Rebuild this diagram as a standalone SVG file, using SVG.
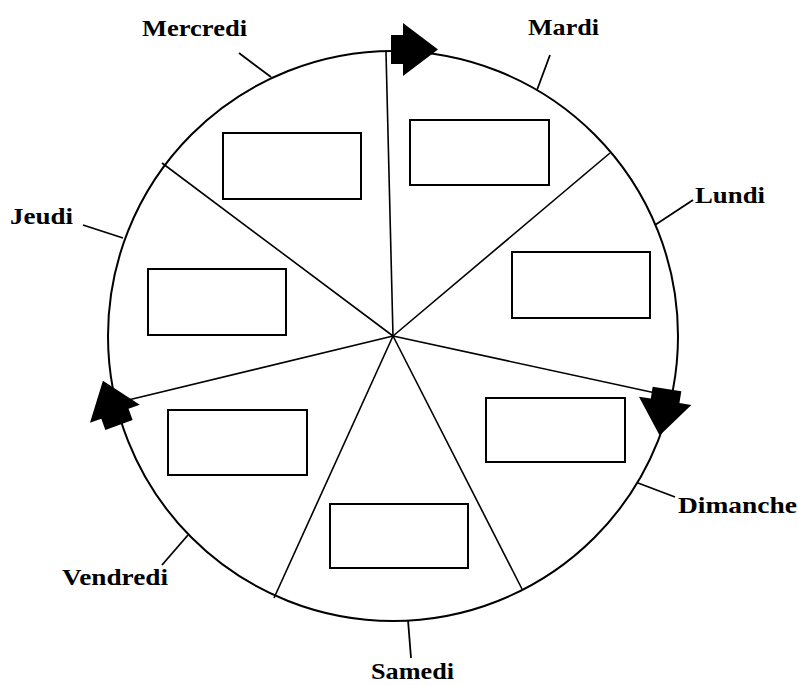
<svg xmlns="http://www.w3.org/2000/svg" width="798" height="685" viewBox="0 0 798 685">
<style>
.ring{fill:none;stroke:#000;stroke-width:2}
.spoke{stroke:#000;stroke-width:1.6;fill:none}
.box{fill:#fff;stroke:#000;stroke-width:2}
.lead{stroke:#000;stroke-width:1.8;fill:none}
.lbl{font-family:"Liberation Serif","Times New Roman",serif;font-weight:bold;font-size:24px;fill:#000}
</style>
<defs>
<path id="blk" d="M0,-14.5 H12 V-26.5 L47,0 L12,26.5 V14.5 H0 Z" fill="#000"/>
</defs>
<rect width="798" height="685" fill="#fff"/>
<g id="wheel">
<circle class="ring" cx="393" cy="336" r="285"/>
</g>
<g id="connectors">
<line class="spoke" x1="393" y1="336" x2="386" y2="52"/>
<line class="spoke" x1="393" y1="336" x2="610" y2="153"/>
<line class="spoke" x1="393" y1="336" x2="674" y2="397"/>
<line class="spoke" x1="393" y1="336" x2="522" y2="589"/>
<line class="spoke" x1="393" y1="336" x2="274" y2="598"/>
<line class="spoke" x1="393" y1="336" x2="120" y2="402"/>
<line class="spoke" x1="393" y1="336" x2="162" y2="163"/>
<line class="lead" x1="271" y1="77" x2="239" y2="53"/>
<line class="lead" x1="537" y1="90" x2="550" y2="55"/>
<line class="lead" x1="655" y1="225" x2="693" y2="200"/>
<line class="lead" x1="123" y1="238" x2="83" y2="225"/>
<line class="lead" x1="638" y1="483" x2="675" y2="497"/>
<line class="lead" x1="408" y1="620" x2="411" y2="658"/>
<line class="lead" x1="188" y1="535" x2="162" y2="565"/>
<use href="#blk" transform="translate(391,49.5)"/>
<use href="#blk" transform="translate(667,389) rotate(99)"/>
<use href="#blk" transform="translate(119,425) rotate(250)"/>
</g>
<g id="mardi"><rect class="box" x="410" y="120" width="139" height="65"/><text class="lbl" x="528" y="35" textLength="71" lengthAdjust="spacingAndGlyphs">Mardi</text></g>
<g id="mercredi"><rect class="box" x="223" y="133" width="138" height="66"/><text class="lbl" x="142" y="36" textLength="105" lengthAdjust="spacingAndGlyphs">Mercredi</text></g>
<g id="lundi"><rect class="box" x="512" y="252" width="138" height="66"/><text class="lbl" x="695" y="203" textLength="70" lengthAdjust="spacingAndGlyphs">Lundi</text></g>
<g id="jeudi"><rect class="box" x="148" y="269" width="138" height="66"/><text class="lbl" x="10" y="224" textLength="63" lengthAdjust="spacingAndGlyphs">Jeudi</text></g>
<g id="dimanche"><rect class="box" x="486" y="398" width="139" height="64"/><text class="lbl" x="678" y="513" textLength="119" lengthAdjust="spacingAndGlyphs">Dimanche</text></g>
<g id="vendredi"><rect class="box" x="168" y="410" width="139" height="65"/><text class="lbl" x="62" y="585" textLength="106" lengthAdjust="spacingAndGlyphs">Vendredi</text></g>
<g id="samedi"><rect class="box" x="330" y="504" width="138" height="64"/><text class="lbl" x="371" y="679" font-size="23" textLength="83" lengthAdjust="spacingAndGlyphs">Samedi</text></g>
</svg>
